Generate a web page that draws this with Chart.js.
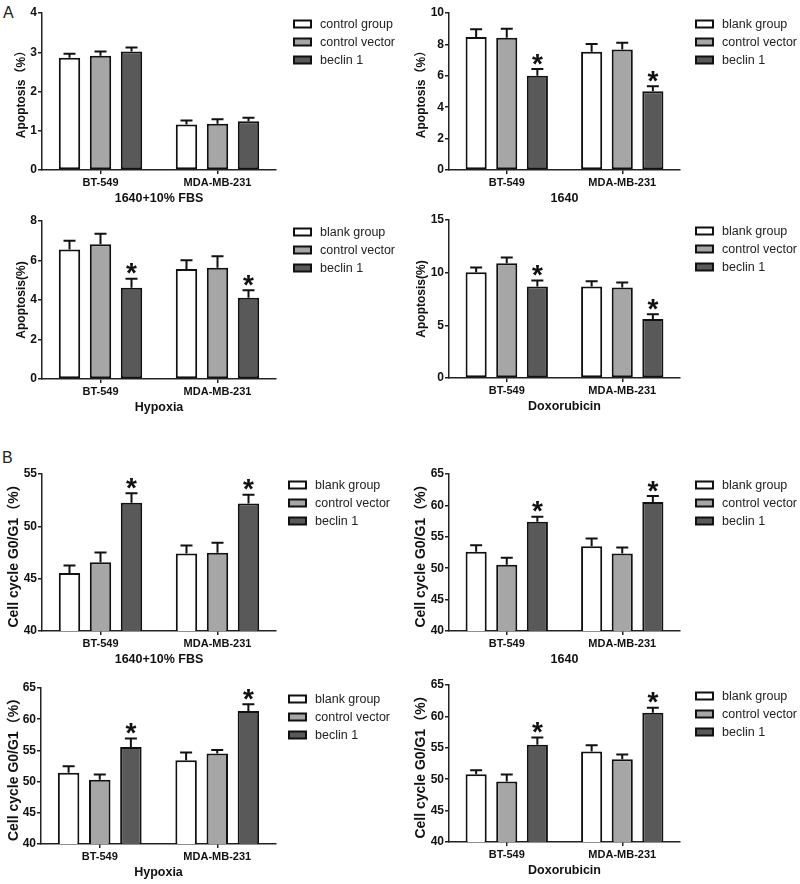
<!DOCTYPE html>
<html><head><meta charset="utf-8">
<script src="https://cdn.jsdelivr.net/npm/chart.js@4.4.1/dist/chart.umd.min.js"></script>
<style>
html,body{margin:0;padding:0;background:#fff;}
#fig{position:relative;width:800px;height:884px;overflow:hidden;font-family:'Liberation Sans',Arial,sans-serif;}
#fig canvas{position:absolute;}
.lab{position:absolute;font-size:16px;line-height:16px;color:#222;}
</style></head><body>
<div id="fig">
<div class="lab" style="left:3px;top:5px">A</div>
<div class="lab" style="left:2px;top:450px">B</div>
</div>
<script>
// ---------- data ----------
const categories = ['BT-549', 'MDA-MB-231'];
const groupsA = ['control group', 'control vector', 'beclin 1'];
const groupsB = ['blank group', 'control vector', 'beclin 1'];

// A: apoptosis (%), rows = control/blank, control vector, beclin 1
const apoFbsMeans  = [[2.86, 1.16], [2.91, 1.18], [3.02, 1.24]];
const apoFbsSem    = [[0.10, 0.10], [0.11, 0.11], [0.10, 0.09]];
const apoFbsStars  = [false, false];

const apo1640Means = [[8.47, 7.53], [8.43, 7.68], [6.00, 5.02]];
const apo1640Sem   = [[0.49, 0.49], [0.57, 0.42], [0.43, 0.32]];
const apo1640Stars = [true, true];

const apoHypMeans  = [[6.56, 5.57], [6.82, 5.63], [4.62, 4.11]];
const apoHypSem    = [[0.44, 0.44], [0.54, 0.58], [0.46, 0.39]];
const apoHypStars  = [true, true];

const apoDoxMeans  = [[10.04, 8.68], [10.90, 8.59], [8.68, 5.59]];
const apoDoxSem    = [[0.46, 0.51], [0.53, 0.47], [0.57, 0.47]];
const apoDoxStars  = [true, true];

// B: cell cycle G0/G1 (%)
const ccFbsMeans   = [[45.55, 47.40], [46.57, 47.47], [52.26, 52.19]];
const ccFbsSem     = [[0.71, 0.77], [0.93, 0.96], [0.89, 0.83]];
const ccFbsStars   = [true, true];

const cc1640Means  = [[52.60, 53.51], [50.53, 52.34], [57.39, 60.53]];
const cc1640Sem    = [[1.07, 1.22], [1.12, 0.96], [0.80, 0.96]];
const cc1640Stars  = [true, true];

const ccHypMeans   = [[51.41, 53.43], [50.29, 54.50], [55.56, 61.32]];
const ccHypSem     = [[1.06, 1.23], [0.85, 0.55], [1.34, 1.07]];
const ccHypStars   = [true, true];

const ccDoxMeans   = [[50.80, 54.41], [49.63, 53.19], [55.48, 60.59]];
const ccDoxSem     = [[0.64, 1.00], [1.11, 0.75], [1.17, 0.79]];
const ccDoxStars   = [true, true];

// y-axis tick ranges [min, max, step]
const ticksApoFbs = [0, 4, 1];
const ticksApo1640 = [0, 10, 2];
const ticksApoHyp = [0, 8, 2];
const ticksApoDox = [0, 15, 5];
const ticksCcFbs = [40, 55, 5];
const ticksCc = [40, 65, 5];

// ---------- styles / layout ----------
const FONT = "'Liberation Sans', Arial, 'Noto Sans CJK SC', sans-serif";
const barColors = ['#ffffff', '#a6a6a6', '#595959'];
const INK = '#111111';

const panels = [
  {means: apoFbsMeans, sem: apoFbsSem, stars: apoFbsStars, names: groupsA, ticks: ticksApoFbs,
   yTitle: 'Apoptosis（%）', yTitleSize: 12, xTitle: '1640+10% FBS', col: 0, t: 13, b: 170, l: 42, r: 276, legX: 293, yPad: 14},
  {means: apo1640Means, sem: apo1640Sem, stars: apo1640Stars, names: groupsB, ticks: ticksApo1640,
   yTitle: 'Apoptosis（%）', yTitleSize: 12, xTitle: '1640', col: 400, t: 13, b: 170, l: 449, r: 680, legX: 695, yPad: 14},
  {means: apoHypMeans, sem: apoHypSem, stars: apoHypStars, names: groupsB, ticks: ticksApoHyp,
   yTitle: 'Apoptosis(%)', yTitleSize: 12, xTitle: 'Hypoxia', col: 0, t: 221, b: 379, l: 42, r: 276, legX: 293, yPad: 14},
  {means: apoDoxMeans, sem: apoDoxSem, stars: apoDoxStars, names: groupsB, ticks: ticksApoDox,
   yTitle: 'Apoptosis(%)', yTitleSize: 12, xTitle: 'Doxorubicin', col: 400, t: 220, b: 378, l: 449, r: 680, legX: 695, yPad: 14},
  {means: ccFbsMeans, sem: ccFbsSem, stars: ccFbsStars, names: groupsB, ticks: ticksCcFbs,
   yTitle: 'Cell cycle G0/G1（%）', yTitleSize: 14, xTitle: '1640+10% FBS', col: 0, t: 474, b: 631, l: 42, r: 276, legX: 288, yPad: 6},
  {means: cc1640Means, sem: cc1640Sem, stars: cc1640Stars, names: groupsB, ticks: ticksCc,
   yTitle: 'Cell cycle G0/G1（%）', yTitleSize: 14, xTitle: '1640', col: 400, t: 474, b: 631, l: 449, r: 680, legX: 695, yPad: 13},
  {means: ccHypMeans, sem: ccHypSem, stars: ccHypStars, names: groupsB, ticks: ticksCc,
   yTitle: 'Cell cycle G0/G1（%）', yTitleSize: 14, xTitle: 'Hypoxia', col: 0, t: 688, b: 844, l: 41, r: 276, legX: 288, yPad: 6},
  {means: ccDoxMeans, sem: ccDoxSem, stars: ccDoxStars, names: groupsB, ticks: ticksCc,
   yTitle: 'Cell cycle G0/G1（%）', yTitleSize: 14, xTitle: 'Doxorubicin', col: 400, t: 685, b: 842, l: 449, r: 680, legX: 695, yPad: 13}
];

// ---------- plugins ----------
const errorBars = {
  id: 'errorBars',
  afterDatasetsDraw(chart) {
    const ctx = chart.ctx, ys = chart.scales.y;
    ctx.save();
    chart.data.datasets.forEach((ds, i) => {
      const meta = chart.getDatasetMeta(i);
      meta.data.forEach((bar, j) => {
        const top = ys.getPixelForValue(ds.data[j] + ds.sem[j]);
        ctx.strokeStyle = INK; ctx.lineWidth = 2; ctx.lineCap = 'butt';
        ctx.beginPath();
        ctx.moveTo(bar.x, bar.y); ctx.lineTo(bar.x, top);
        ctx.moveTo(bar.x - 6, top); ctx.lineTo(bar.x + 6, top);
        ctx.stroke();
        if (ds.stars && ds.stars[j]) {
          ctx.font = 'bold 28px ' + FONT;
          ctx.fillStyle = INK; ctx.textAlign = 'center'; ctx.textBaseline = 'alphabetic';
          const m = ctx.measureText('*');
          const cy = top - 10;
          ctx.fillText('*', bar.x, cy + (m.actualBoundingBoxAscent - m.actualBoundingBoxDescent) / 2);
        }
      });
    });
    ctx.restore();
  }
};

const sideLegend = {
  id: 'sideLegend',
  afterDraw(chart, args, opts) {
    const ctx = chart.ctx, top = chart.chartArea.top;
    ctx.save();
    chart.data.datasets.forEach((ds, i) => {
      const cy = top + 11 + i * 18;
      ctx.fillStyle = ds.backgroundColor; ctx.strokeStyle = INK; ctx.lineWidth = 2;
      ctx.fillRect(opts.x + 1, cy - 3.5, 17, 7);
      ctx.strokeRect(opts.x + 1, cy - 3.5, 17, 7);
      ctx.fillStyle = '#222'; ctx.font = '12.5px ' + FONT;
      ctx.textAlign = 'left'; ctx.textBaseline = 'middle';
      ctx.fillText(ds.label, opts.x + 27, cy + 0.5);
    });
    ctx.restore();
  }
};

// ---------- build ----------
const fig = document.getElementById('fig');
panels.forEach(p => {
  const W = 400, H = (p.b - p.t) + 10 + 40;
  const cv = document.createElement('canvas');
  cv.width = W; cv.height = H;
  cv.style.left = p.col + 'px'; cv.style.top = (p.t - 10) + 'px';
  cv.style.width = W + 'px'; cv.style.height = H + 'px';
  fig.appendChild(cv);
  const datasets = p.names.map((name, i) => ({
    label: name,
    data: p.means[i],
    sem: p.sem[i],
    stars: i === 2 ? p.stars : null,
    backgroundColor: barColors[i],
    borderColor: INK,
    borderWidth: 2,
    borderSkipped: false,
    barPercentage: 0.69,
    categoryPercentage: 0.795
  }));
  new Chart(cv, {
    type: 'bar',
    data: { labels: categories, datasets },
    plugins: [errorBars, sideLegend],
    options: {
      responsive: false, animation: false, devicePixelRatio: 1,
      layout: { padding: { top: 10, left: 0, bottom: 0, right: W - (p.r - p.col) } },
      plugins: { legend: { display: false }, tooltip: { enabled: false },
                 sideLegend: { x: p.legX - p.col } },
      scales: {
        x: {
          type: 'category', offset: true,
          grid: { display: true, drawOnChartArea: false, drawTicks: true, tickLength: 4, offset: false, color: '#222', lineWidth: 1.5 },
          border: { display: true, color: '#222', width: 1.5 },
          ticks: { font: { family: FONT, size: 11, weight: 'bold' }, color: INK, padding: 2, maxRotation: 0, autoSkip: false },
          title: { display: true, text: p.xTitle, color: INK, font: { family: FONT, size: 12.5, weight: 'bold' }, padding: { top: 0, bottom: 3.5 } },
          afterFit: s => { s.height = 40; }
        },
        y: {
          min: p.ticks[0], max: p.ticks[1],
          ticks: { stepSize: p.ticks[2], font: { family: FONT, size: 12, weight: 'bold' }, color: INK, padding: 1 },
          grid: { display: true, drawOnChartArea: false, drawTicks: true, tickLength: 4, color: '#222', lineWidth: 1.5 },
          border: { display: true, color: '#222', width: 1.5 },
          title: { display: true, text: p.yTitle, color: INK, font: { family: FONT, size: p.yTitleSize, weight: 'bold' }, padding: { top: p.yPad, bottom: 0 } },
          afterFit: s => { s.width = p.l - p.col; }
        }
      }
    }
  });
});
</script>
</body></html>
